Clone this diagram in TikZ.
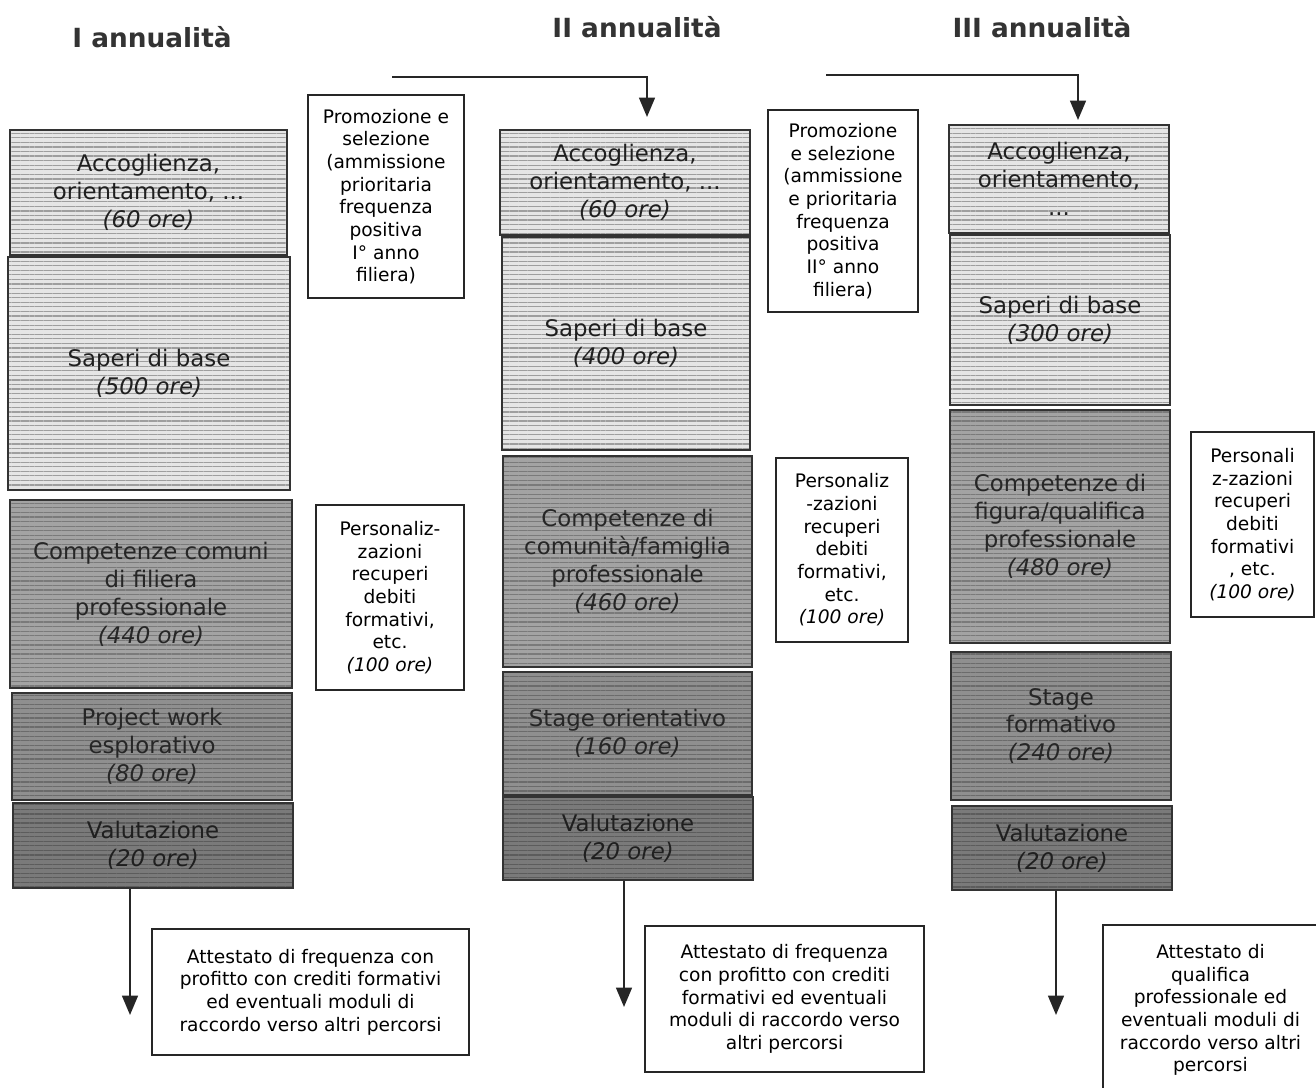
\documentclass[tikz,border=0pt]{standalone}
\usepackage{fontspec}
\setmainfont{DejaVu Sans}
\usetikzlibrary{arrows.meta,patterns.meta}

\tikzset{
  blk/.style={draw=black!80, line width=1pt, align=center, inner sep=1pt,
    font=\fontsize{13}{15.9}\selectfont},
  stripes/.style={pattern={Lines[angle=0,distance=2.6pt,line width=0.7pt]}},
  light/.style={blk, stripes, preaction={fill=black!10}, pattern color=black!38, text=black!88},
  medium/.style={blk, stripes, preaction={fill=black!36}, pattern color=black!52, text=black!85},
  dark/.style={blk, stripes, preaction={fill=black!44}, pattern color=black!58, text=black!85},
  darker/.style={blk, stripes, preaction={fill=black!52}, pattern color=black!64, text=black!88},
  note/.style={draw=black!85, line width=0.9pt, fill=white, align=center, inner sep=1pt,
    font=\fontsize{10.6}{12.9}\selectfont},
  title/.style={font=\fontsize{15}{18}\selectfont\bfseries, text=black!80},
  flow/.style={draw=black!85, line width=1.1pt, -{Triangle[width=9pt,length=11pt]}},
}

\begin{document}
\begin{tikzpicture}[x=0.02cm, y=-0.02cm]
      \useasboundingbox (0,0) rectangle (1316,1088);

      % titoli
      \node[title] (t1) at (152,37) {I annualità};
      \node[title] (t2) at (637,27) {II annualità};
      \node[title] (t3) at (1042,27) {III annualità};

      % I annualita
      \node[light, minimum width=5.54cm, minimum height=2.5cm] (acc1) at (148.5,192.5)
        {Accoglienza,\\orientamento, ...\\\textit{(60 ore)}};
      \node[light, minimum width=5.64cm, minimum height=4.66cm] (sap1) at (149,373.5)
        {Saperi di base\\\textit{(500 ore)}};
      \node[medium, minimum width=5.64cm, minimum height=3.76cm] (com1) at (151,594)
        {Competenze comuni\\di filiera\\professionale\\\textit{(440 ore)}};
      \node[dark, minimum width=5.6cm, minimum height=2.14cm] (prj1) at (152,746.5)
        {Project work\\esplorativo\\\textit{(80 ore)}};
      \node[darker, minimum width=5.6cm, minimum height=1.7cm] (val1) at (153,845.5)
        {Valutazione\\\textit{(20 ore)}};
      \node[note, minimum width=3.12cm, minimum height=4.06cm] (pro1) at (386,196.5)
        {Promozione e\\selezione\\(ammissione\\prioritaria\\frequenza\\positiva\\I° anno\\filiera)};
      \node[note, minimum width=2.96cm, minimum height=3.7cm] (per1) at (390,597.5)
        {Personaliz-\\zazioni\\recuperi\\debiti\\formativi,\\etc.\\\textit{(100 ore)}};

      % II annualita
      \node[light, minimum width=5cm, minimum height=2.1cm] (acc2) at (625,182.5)
        {Accoglienza,\\orientamento, ...\\\textit{(60 ore)}};
      \node[light, minimum width=4.96cm, minimum height=4.26cm] (sap2) at (626,343.5)
        {Saperi di base\\\textit{(400 ore)}};
      \node[medium, minimum width=4.98cm, minimum height=4.22cm] (com2) at (627.5,561.5)
        {Competenze di\\comunità/famiglia\\professionale\\\textit{(460 ore)}};
      \node[dark, minimum width=4.98cm, minimum height=2.46cm] (stg2) at (627.5,733.5)
        {Stage orientativo\\\textit{(160 ore)}};
      \node[darker, minimum width=5cm, minimum height=1.66cm] (val2) at (628,838.5)
        {Valutazione\\\textit{(20 ore)}};
      \node[note, minimum width=3cm, minimum height=4.04cm] (pro2) at (843,211)
        {Promozione\\e selezione\\(ammissione\\e prioritaria\\frequenza\\positiva\\II° anno\\filiera)};
      \node[note, minimum width=2.64cm, minimum height=3.68cm] (per2) at (842,550)
        {Personaliz\\-zazioni\\recuperi\\debiti\\formativi,\\etc.\\\textit{(100 ore)}};

      % III annualita
      \node[light, minimum width=4.4cm, minimum height=2.16cm] (acc3) at (1059,179)
        {Accoglienza,\\orientamento,\\...};
      \node[light, minimum width=4.4cm, minimum height=3.4cm] (sap3) at (1060,320)
        {Saperi di base\\\textit{(300 ore)}};
      \node[medium, minimum width=4.4cm, minimum height=4.66cm] (com3) at (1060,526.5)
        {Competenze di\\figura/qualifica\\professionale\\\textit{(480 ore)}};
      \node[dark, minimum width=4.4cm, minimum height=2.96cm] (stg3) at (1061,726)
        {Stage\\formativo\\\textit{(240 ore)}};
      \node[darker, minimum width=4.4cm, minimum height=1.68cm] (val3) at (1062,848)
        {Valutazione\\\textit{(20 ore)}};
      \node[note, minimum width=2.46cm, minimum height=3.7cm] (per3) at (1252.5,524.5)
        {Personali\\z-zazioni\\recuperi\\debiti\\formativi\\, etc.\\\textit{(100 ore)}};

      % attestati
      \node[note, minimum width=6.34cm, minimum height=2.52cm] (att1) at (310.5,992)
        {Attestato di frequenza con\\profitto con crediti formativi\\ed eventuali moduli di\\raccordo verso altri percorsi};
      \node[note, minimum width=5.58cm, minimum height=2.92cm] (att2) at (784.5,999)
        {Attestato di frequenza\\con profitto con crediti\\formativi ed eventuali\\moduli di raccordo verso\\altri percorsi};
      \node[note, minimum width=4.3cm, minimum height=3.4cm] (att3) at (1210.5,1010)
        {Attestato di\\qualifica\\professionale ed\\eventuali moduli di\\raccordo verso altri\\percorsi};

      % frecce
      \coordinate (s1) at (392,77);
      \coordinate (s2) at (826,75);
      \coordinate (e1) at (130,1015);
      \coordinate (e2) at (624,1007);
      \coordinate (e3) at (1056,1015);
      \path (s1) edge[flow, to path={-| (\tikztotarget)}] (647,117);
      \path (s2) edge[flow, to path={-| (\tikztotarget)}] (1078,120);
      \path (val1.south -| e1) edge[flow] (e1);
      \path (val2.south -| e2) edge[flow] (e2);
      \path (val3.south -| e3) edge[flow] (e3);
\end{tikzpicture}
\end{document}
